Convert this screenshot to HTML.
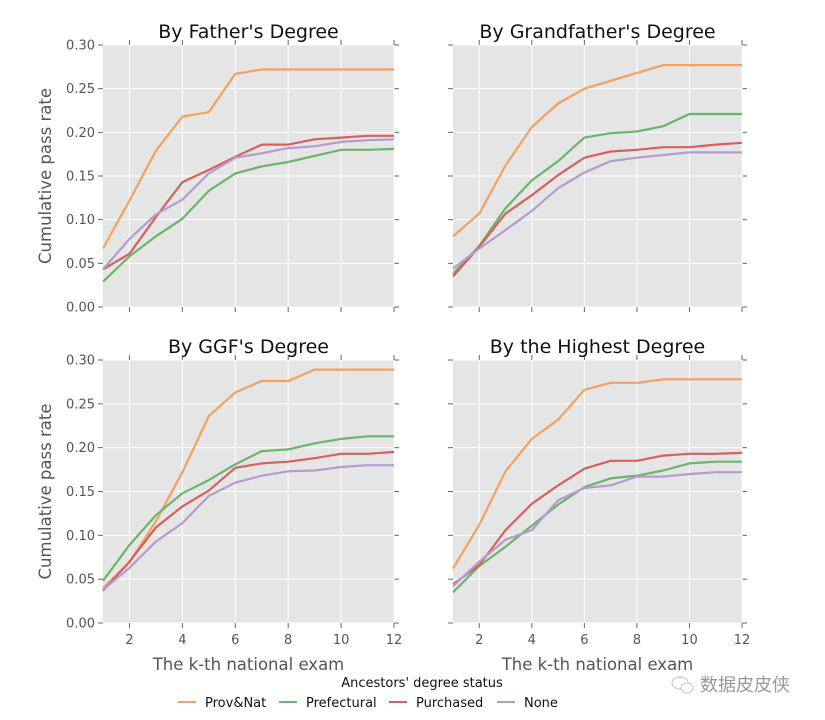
<!DOCTYPE html>
<html><head><meta charset="utf-8"><style>
body{margin:0;background:#fff;}
svg{display:block;font-family:"DejaVu Sans","Liberation Sans",sans-serif;}
</style></head><body>
<svg id="c" width="825" height="720" xmlns="http://www.w3.org/2000/svg"></svg>
<script>
const exams=[1,2,3,4,5,6,7,8,9,10,11,12];
const xTicks=[2,4,6,8,10,12];
const yTicks=[0,0.05,0.10,0.15,0.20,0.25,0.30];
const yTickLabels=["0.00","0.05","0.10","0.15","0.20","0.25","0.30"];
const seriesNames=["Prov&Nat","Prefectural","Purchased","None"];
const panelTitles=["By Father's Degree","By Grandfather's Degree","By GGF's Degree","By the Highest Degree"];
const fatherProv=[.067,.122,.179,.218,.223,.267,.272,.272,.272,.272,.272,.272];
const fatherPref=[.029,.058,.081,.101,.133,.153,.161,.166,.173,.180,.180,.181];
const fatherPurch=[.043,.061,.103,.143,.157,.172,.186,.186,.192,.194,.196,.196];
const fatherNone=[.043,.078,.106,.123,.153,.171,.176,.182,.184,.189,.191,.192];
const gfProv=[.081,.107,.162,.206,.233,.250,.259,.268,.277,.277,.277,.277];
const gfPref=[.038,.070,.113,.145,.167,.194,.199,.201,.207,.221,.221,.221];
const gfPurch=[.035,.069,.107,.128,.151,.171,.178,.180,.183,.183,.186,.188];
const gfNone=[.044,.067,.088,.110,.136,.154,.167,.171,.174,.177,.177,.177];
const ggfProv=[.040,.069,.116,.172,.236,.263,.276,.276,.289,.289,.289,.289];
const ggfPref=[.048,.089,.123,.148,.163,.181,.196,.198,.205,.210,.213,.213];
const ggfPurch=[.037,.070,.109,.133,.151,.177,.182,.184,.188,.193,.193,.195];
const ggfNone=[.038,.063,.093,.114,.145,.160,.168,.173,.174,.178,.180,.180];
const hiProv=[.062,.112,.173,.210,.232,.266,.274,.274,.278,.278,.278,.278];
const hiPref=[.035,.065,.087,.111,.135,.155,.165,.168,.174,.182,.184,.184];
const hiPurch=[.044,.066,.106,.136,.157,.176,.185,.185,.191,.193,.193,.194];
const hiNone=[.042,.070,.095,.106,.140,.154,.157,.167,.167,.170,.172,.172];
const panelData=[[fatherProv,fatherPref,fatherPurch,fatherNone],[gfProv,gfPref,gfPurch,gfNone],[ggfProv,ggfPref,ggfPurch,ggfNone],[hiProv,hiPref,hiPurch,hiNone]];
const colors=["#f2a25f","#6ab56a","#d6605f","#b39bcf"];
const NS="http://www.w3.org/2000/svg";
const svg=document.getElementById('c');
function mk(t,a,p){const e=document.createElementNS(NS,t);for(const k in a)e.setAttribute(k,a[k]);(p||svg).appendChild(e);return e;}
const boxes=[[103,45,394,307],[453,45,742,307],[103,360,394,623],[453,360,742,623]];
const slugs=["father","grandfather","ggf","highest"];
boxes.forEach((b,pi)=>{
  const [x0,y0,x1,y1]=b;
  const sx=v=>x0+(v-1)/(11)*(x1-x0);
  const sy=v=>y1-v/0.30*(y1-y0);
  const g=mk('g',{});
  
  
  const bg=mk('rect',{x:x0,y:y0,width:x1-x0,height:y1-y0,fill:'#e5e5e5'},g);
  
  
  yTicks.forEach((t,i)=>{
    const y=sy(t);
    mk('line',{x1:x0,x2:x1,y1:y,y2:y,stroke:'#fff','stroke-width':1},g);
    mk('line',{x1:x0-5,x2:x0,y1:y,y2:y,stroke:'#666','stroke-width':1},g);
    mk('line',{x1:x1,x2:x1+5,y1:y,y2:y,stroke:'#666','stroke-width':1},g);
    if(pi%2===0){const tx=mk('text',{x:x0-8,y:y+4.5,'text-anchor':'end','font-size':13,fill:'#555'},g);tx.textContent=yTickLabels[i];
      
      }
  });
  xTicks.forEach(t=>{
    const x=sx(t);
    mk('line',{x1:x,x2:x,y1:y0,y2:y1,stroke:'#fff','stroke-width':1},g);
    mk('line',{x1:x,x2:x,y1:y0-5,y2:y0,stroke:'#666','stroke-width':1},g);
    mk('line',{x1:x,x2:x,y1:y1,y2:y1+5,stroke:'#666','stroke-width':1},g);
    if(pi>=2){const tx=mk('text',{x:x,y:y1+21,'text-anchor':'middle','font-size':13,fill:'#555'},g);tx.textContent=t;
      
      }
  });
  panelData[pi].forEach((arr,si)=>{
    const d=arr.map((v,i)=>(i?'L':'M')+sx(exams[i]).toFixed(1)+','+sy(v).toFixed(1)).join(' ');
    const p=mk('path',{d:d,fill:'none',stroke:colors[si],'stroke-width':2.2,'stroke-linejoin':'round'},g);
    
    
  });
  const t=mk('text',{x:(x0+x1)/2,y:y0-7,'text-anchor':'middle','font-size':19,fill:'#111'},g);
  t.textContent=panelTitles[pi];
  
  
  if(pi%2===0){const yl=mk('text',{x:0,y:0,transform:`translate(51,${(y0+y1)/2}) rotate(-90)`,'text-anchor':'middle','font-size':16.5,fill:'#555'},g);
    yl.textContent='Cumulative pass rate';
    
    }
  if(pi>=2){const xl=mk('text',{x:(x0+x1)/2,y:670,'text-anchor':'middle','font-size':16.5,fill:'#555'},g);
    xl.textContent='The k-th national exam';
    
    }
});
const lt=mk('text',{x:422,y:687,'text-anchor':'middle','font-size':13,fill:'#111'});
lt.textContent="Ancestors' degree status";


const legX=[178,279,389,497];
seriesNames.forEach((n,i)=>{
  const g=mk('g',{});
  
  
  mk('line',{x1:legX[i],x2:legX[i]+18,y1:702,y2:702,stroke:colors[i],'stroke-width':2},g);
  const t=mk('text',{x:legX[i]+27,y:707,'font-size':13,fill:'#111'},g);
  t.textContent=n;
});
const wm=mk('text',{x:700,y:691,'font-size':18,fill:'#999','font-family':'"Noto Sans CJK SC",sans-serif'});
wm.textContent='数据皮皮侠';


const ic=mk('g',{});


mk('ellipse',{cx:680,cy:683,rx:8,ry:6,fill:'none',stroke:'#ccc','stroke-width':1.2},ic);
mk('ellipse',{cx:687,cy:688,rx:6,ry:5,fill:'#fff',stroke:'#ccc','stroke-width':1.2},ic);
</script>
</body></html>
